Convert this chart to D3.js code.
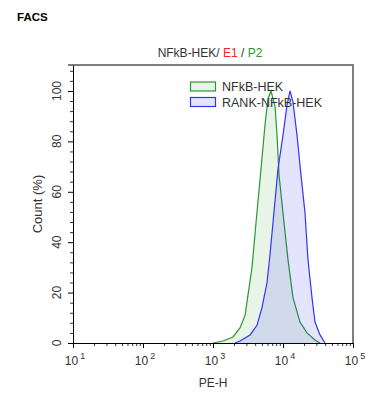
<!DOCTYPE html>
<html>
<head>
<meta charset="utf-8">
<script src="https://cdn.jsdelivr.net/npm/d3@7/dist/d3.min.js"></script>
<style>
  body { margin: 0; background: #fff; }
  svg { display: block; font-family: "Liberation Sans", Arial, sans-serif; }
</style>
</head>
<body>
<div id="chart"></div>
<script>
// histogram values (PE-H intensity, count in %)
const nfkbPE = [1000, 1390, 1930, 2430, 2870, 3160, 3610, 4250, 4850, 5530, 6110, 6740, 7690, 8210, 8770, 10000, 11790, 13890, 17500, 22000, 28600, 33800];
const nfkbCount = [0, 0.8, 2.4, 6, 11, 19, 30, 52, 69, 86.5, 97, 100, 94, 82.5, 66.7, 51.6, 33, 18, 8.3, 4, 1.2, 0];
const rankPE = [2060, 2430, 3380, 4250, 5010, 5910, 6520, 7430, 8480, 10000, 11400, 12600, 13890, 15850, 18070, 20620, 22760, 25960, 28650, 33800, 39800];
const rankCount = [0, 0.8, 3.2, 7, 14, 24, 35, 52, 69, 82.5, 94.4, 100, 95.6, 82.5, 66.7, 51.6, 33, 18, 8.3, 3.2, 0];

const seriesNames = ['NFkB-HEK', 'RANK-NFkB-HEK'];
const xMajor = [1e1, 1e2, 1e3, 1e4, 1e5];
const xExponents = ['1', '2', '3', '4', '5'];
const yMajor = [0, 20, 40, 60, 80, 100];

const width = 376;
const height = 409;
const plotLeft = 73, plotRight = 353, plotTop = 65, plotBottom = 343;

const svg = d3.select('#chart')
	.append('svg')
	.attr('width', width)
	.attr('height', height);

const x = d3.scaleLog().domain([1e1, 1e5]).range([plotLeft, plotRight]);
const y = d3.scaleLinear().domain([0, 110.3]).range([plotBottom, plotTop]);

// "FACS" heading
svg.append('text')
	.attr('x', 17)
	.attr('y', 21)
	.attr('font-size', '11.5px')
	.attr('font-weight', 'bold')
	.attr('fill', '#000')
	.text('FACS');

// title with coloured gate names
const title = svg.append('text')
	.attr('x', 210)
	.attr('y', 57)
	.attr('text-anchor', 'middle')
	.attr('font-size', '12px');
title.append('tspan').attr('fill', '#333').text('NFkB-HEK/ ');
title.append('tspan').attr('fill', '#f22').text('E1');
title.append('tspan').attr('fill', '#333').text(' / ');
title.append('tspan').attr('fill', '#2a9a2a').text('P2');

// histograms
const nfkbData = nfkbPE.map((v, i) => ({ v: v, c: nfkbCount[i] }));
const rankData = rankPE.map((v, i) => ({ v: v, c: rankCount[i] }));

const area = d3.area()
	.x((d) => x(d.v))
	.y0(y(0))
	.y1((d) => y(d.c));
const line = d3.line()
	.x((d) => x(d.v))
	.y((d) => y(d.c));

svg.append('path')
	.datum(nfkbData)
	.attr('d', area)
	.attr('fill', 'rgba(0,128,0,0.085)');
svg.append('path')
	.datum(nfkbData)
	.attr('d', line)
	.attr('fill', 'none')
	.attr('stroke', '#2a9a2a')
	.attr('stroke-width', 1.2);

svg.append('path')
	.datum(rankData)
	.attr('d', area)
	.attr('fill', 'rgba(0,0,255,0.105)');
svg.append('path')
	.datum(rankData)
	.attr('d', line)
	.attr('fill', 'none')
	.attr('stroke', '#3333ff')
	.attr('stroke-width', 1.2);

// frame (top and right)
svg.append('path')
	.attr('d', `M${plotLeft - 5},${plotTop}H${plotRight}V${plotBottom}`)
	.attr('fill', 'none')
	.attr('stroke', '#555')
	.attr('stroke-width', 1.5);

// x axis: majors, minors
const xMinor = [];
for (let e = 1; e < 5; e += 1) {
	for (let m = 2; m < 10; m += 1) {
		xMinor.push(m * Math.pow(10, e));
	}
}
svg.append('g')
	.attr('transform', `translate(0,${plotBottom})`)
	.call(d3.axisBottom(x).tickValues(xMinor).tickSize(3).tickFormat(''))
	.call((g) => g.select('.domain').remove())
	.selectAll('line').attr('stroke', '#333');
svg.append('g')
	.attr('transform', `translate(0,${plotBottom})`)
	.call(d3.axisBottom(x).tickValues(xMajor).tickSize(5).tickSizeOuter(0).tickFormat(''))
	.call((g) => g.select('.domain').attr('stroke', '#000'))
	.selectAll('line').attr('stroke', '#000');

xMajor.forEach((v, i) => {
	const t = svg.append('text')
		.attr('x', x(v) + 2)
		.attr('y', 365)
		.attr('text-anchor', 'middle')
		.attr('font-size', '12px')
		.attr('fill', '#333');
	t.append('tspan').text('10');
	t.append('tspan')
		.attr('dx', 2)
		.attr('dy', -6)
		.attr('font-size', '9px')
		.text(xExponents[i]);
});

svg.append('text')
	.attr('x', (plotLeft + plotRight) / 2)
	.attr('y', 387)
	.attr('text-anchor', 'middle')
	.attr('font-size', '12px')
	.attr('fill', '#333')
	.text('PE-H');

// y axis: majors, minors every 4 %
const yMinor = d3.range(4, 110, 4).filter((v) => v % 20 !== 0);
svg.append('g')
	.attr('transform', `translate(${plotLeft},0)`)
	.call(d3.axisLeft(y).tickValues(yMinor).tickSize(3).tickFormat(''))
	.call((g) => g.select('.domain').remove())
	.selectAll('line').attr('stroke', '#333');
svg.append('g')
	.attr('transform', `translate(${plotLeft},0)`)
	.call(d3.axisLeft(y).tickValues(yMajor).tickSize(5).tickSizeOuter(0).tickFormat(''))
	.call((g) => g.select('.domain').attr('stroke', '#000'))
	.selectAll('line').attr('stroke', '#000');

yMajor.forEach((v) => {
	svg.append('text')
		.attr('transform', `translate(61,${y(v)}) rotate(-90)`)
		.attr('text-anchor', 'middle')
		.attr('font-size', '12px')
		.attr('fill', '#333')
		.text(v);
});

svg.append('text')
	.attr('transform', `translate(41.5,${(plotTop + plotBottom) / 2}) rotate(-90)`)
	.attr('text-anchor', 'middle')
	.attr('font-size', '13px')
	.attr('fill', '#333')
	.text('Count (%)');

// legend
const legendColors = [
	{ stroke: '#2a9a2a', fill: 'rgba(0,128,0,0.085)' },
	{ stroke: '#3333ff', fill: 'rgba(0,0,255,0.105)' },
];
seriesNames.forEach((name, i) => {
	const ly = 82 + i * 15.5;
	svg.append('rect')
		.attr('x', 190.5)
		.attr('y', ly)
		.attr('width', 25)
		.attr('height', 9)
		.attr('fill', legendColors[i].fill)
		.attr('stroke', legendColors[i].stroke)
		.attr('stroke-width', 1.2);
	svg.append('text')
		.attr('x', 222)
		.attr('y', ly + 9)
		.attr('font-size', '12.5px')
		.attr('fill', '#333')
		.text(name);
});
</script>
</body>
</html>
